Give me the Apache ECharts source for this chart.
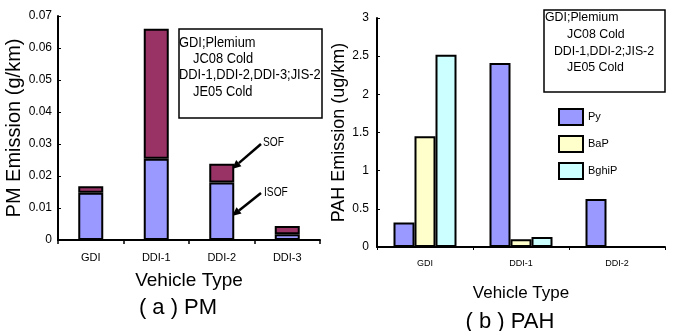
<!DOCTYPE html>
<html>
<head>
<meta charset="utf-8">
<script src="https://cdn.jsdelivr.net/npm/echarts@6/dist/echarts.min.js"></script>
<style>
  html, body { margin: 0; padding: 0; background: #fff; }
  #main { width: 675px; height: 331px; }
</style>
</head>
<body>
<div id="main"></div>
<script>
var chart = echarts.init(document.getElementById('main'));

// (a) PM
var pmTypes = ['GDI', 'DDI-1', 'DDI-2', 'DDI-3'];
var pmIsof = [0.0148, 0.0254, 0.0180, 0.0018];
var pmSof = [0.0020, 0.0406, 0.0058, 0.0026];
var pmTicks = [0, 0.01, 0.02, 0.03, 0.04, 0.05, 0.06, 0.07];

// (b) PAH
var pahTypes = ['GDI', 'DDI-1', 'DDI-2'];
var pahPy = [0.32, 2.41, 0.63];
var pahBaP = [1.45, 0.10, 0];
var pahBghiP = [2.52, 0.13, 0];

var FONT = '"Liberation Sans", Arial, sans-serif';
var blackLine = { lineStyle: { color: '#000', width: 2 } };

function arrow(x1, y1, x2, y2) {
    var ang = Math.atan2(y2 - y1, x2 - x1);
    var L = 9, W = 4;
    var bx = x2 - L * Math.cos(ang), by = y2 - L * Math.sin(ang);
    var px = -Math.sin(ang) * W, py = Math.cos(ang) * W;
    return [
        { type: 'line', shape: { x1: x1, y1: y1, x2: bx, y2: by }, style: { stroke: '#000', lineWidth: 2.5 } },
        { type: 'polygon', shape: { points: [[x2, y2], [bx + px, by + py], [bx - px, by - py]] }, style: { fill: '#000' } }
    ];
}

function textEl(x, y, t, size, align, sx) {
    return {
        type: 'text', x: x, y: y, scaleX: sx || 1,
        style: { text: t, font: size + 'px ' + FONT, fill: '#000', align: align || 'left', verticalAlign: 'middle' }
    };
}

var graphics = [
    { type: 'rect', shape: { x: 179, y: 29, width: 143, height: 89 }, style: { fill: '#fff', stroke: '#000', lineWidth: 1.5 } },
    textEl(179, 43, 'GDI;Plemium', 14, 'left', 0.92),
    textEl(193, 59, 'JC08 Cold', 14, 'left', 0.92),
    textEl(179, 75, 'DDI-1,DDI-2,DDI-3;JIS-2', 14, 'left', 0.92),
    textEl(193, 92, 'JE05 Cold', 14, 'left', 0.92),
    { type: 'rect', shape: { x: 544, y: 10, width: 121, height: 82 }, style: { fill: '#fff', stroke: '#000', lineWidth: 1.5 } },
    textEl(545, 17, 'GDI;Plemium', 13, 'left', 0.95),
    textEl(567, 34, 'JC08 Cold', 13, 'left', 0.95),
    textEl(604, 51, 'DDI-1,DDI-2;JIS-2', 13, 'center', 0.95),
    textEl(567, 67, 'JE05 Cold', 13, 'left', 0.95),
    textEl(263, 143, 'SOF', 12, 'left', 0.85),
    textEl(264, 193, 'ISOF', 12, 'left', 0.85),
    textEl(178, 308, '( a ) PM', 22, 'center'),
    textEl(510, 322, '( b ) PAH', 22, 'center')
].concat(arrow(261, 144, 232, 169), arrow(261, 193, 232, 216));

var option = {
    animation: false,
    textStyle: { fontFamily: FONT, color: '#000' },
    legend: {
        data: ['Py', 'BaP', 'BghiP'],
        orient: 'vertical',
        left: 553,
        top: 103,
        icon: 'rect',
        itemWidth: 24,
        itemHeight: 16,
        itemGap: 9,
        textStyle: { fontSize: 11, color: '#000', fontFamily: FONT }
    },
    grid: [
        { left: 58, right: 355, top: 16, bottom: 91 },
        { left: 377, right: 10, top: 18, bottom: 84 }
    ],
    xAxis: [
        {
            gridIndex: 0, type: 'category', data: pmTypes,
            name: 'Vehicle Type', nameLocation: 'middle', nameGap: 31,
            nameTextStyle: { fontSize: 19, color: '#000' },
            axisLine: blackLine,
            axisTick: { show: true, length: 4, lineStyle: { color: '#000', width: 1.5 } },
            axisLabel: { color: '#000', fontSize: 11, margin: 12 }
        },
        {
            gridIndex: 1, type: 'category', data: pahTypes,
            name: 'Vehicle Type', nameLocation: 'middle', nameGap: 38,
            nameTextStyle: { fontSize: 17, color: '#000' },
            axisLine: blackLine,
            axisTick: { show: true, length: 3, lineStyle: { color: '#000', width: 1 } },
            axisLabel: { color: '#000', fontSize: 9, margin: 12 }
        }
    ],
    yAxis: [
        {
            gridIndex: 0, type: 'value', min: pmTicks[0], max: pmTicks[pmTicks.length - 1], interval: 0.01,
            name: 'PM Emission (g/km)', nameLocation: 'middle', nameGap: 32, nameRotate: 90,
            nameTextStyle: { fontSize: 20, color: '#000' },
            axisLine: { show: true, lineStyle: { color: '#000', width: 2 } },
            axisTick: { show: true, inside: true, length: 3, lineStyle: { color: '#000' } },
            splitLine: { show: false },
            axisLabel: { color: '#000', fontSize: 12, margin: 6 }
        },
        {
            gridIndex: 1, type: 'value', min: 0, max: 3, interval: 0.5,
            name: 'PAH Emission (ug/km)', nameLocation: 'middle', nameGap: 22, nameRotate: 90,
            nameTextStyle: { fontSize: 18, color: '#000' },
            axisLine: { show: true, lineStyle: { color: '#000', width: 2 } },
            axisTick: { show: true, inside: true, length: 3, lineStyle: { color: '#000' } },
            splitLine: { show: false },
            axisLabel: { color: '#000', fontSize: 12, margin: 8 }
        }
    ],
    series: [
        {
            name: 'ISOF', type: 'bar', stack: 'pm', xAxisIndex: 0, yAxisIndex: 0,
            data: pmIsof, barWidth: 25,
            itemStyle: { color: '#9999ff', borderColor: '#000', borderWidth: 2 }
        },
        {
            name: 'SOF', type: 'bar', stack: 'pm', xAxisIndex: 0, yAxisIndex: 0,
            data: pmSof, barWidth: 25,
            itemStyle: { color: '#993366', borderColor: '#000', borderWidth: 2 }
        },
        {
            name: 'Py', type: 'bar', xAxisIndex: 1, yAxisIndex: 1,
            data: pahPy, barWidth: 21, barGap: '0%',
            itemStyle: { color: '#9999ff', borderColor: '#000', borderWidth: 2 }
        },
        {
            name: 'BaP', type: 'bar', xAxisIndex: 1, yAxisIndex: 1,
            data: pahBaP, barWidth: 21, barGap: '0%',
            itemStyle: { color: '#ffffcc', borderColor: '#000', borderWidth: 2 }
        },
        {
            name: 'BghiP', type: 'bar', xAxisIndex: 1, yAxisIndex: 1,
            data: pahBghiP, barWidth: 21, barGap: '0%',
            itemStyle: { color: '#ccffff', borderColor: '#000', borderWidth: 2 }
        }
    ],
    graphic: graphics
};

chart.setOption(option);
</script>
</body>
</html>
